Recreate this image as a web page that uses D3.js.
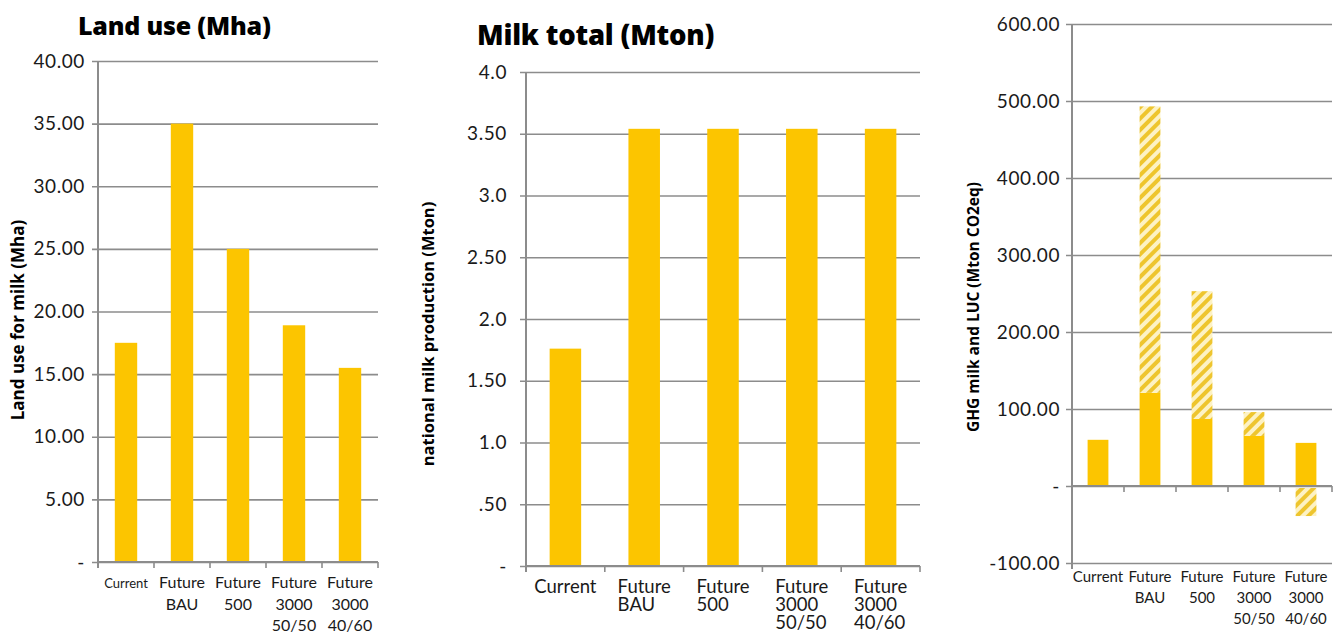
<!DOCTYPE html>
<html>
<head>
<meta charset="utf-8">
<script src="https://cdn.jsdelivr.net/npm/d3@7"></script>
<style>
  body { margin: 0; background: #fff; }
  svg { font-family: Lato, "Open Sans", sans-serif; }
</style>
</head>
<body>
<svg width="1340" height="634"></svg>
<script>
const categories = ["Current", "Future BAU", "Future 500", "Future 3000 50/50", "Future 3000 40/60"];
const categoryLines = [["Current"], ["Future", "BAU"], ["Future", "500"], ["Future", "3000", "50/50"], ["Future", "3000", "40/60"]];

const landUse = [17.5, 35.0, 25.0, 18.9, 15.5];
const landTicks = [0, 5, 10, 15, 20, 25, 30, 35, 40];
const landTickLabels = ["-", "5.00", "10.00", "15.00", "20.00", "25.00", "30.00", "35.00", "40.00"];

const milkTotal = [1.76, 3.54, 3.54, 3.54, 3.54];
const milkTicks = [0, 0.5, 1, 1.5, 2, 2.5, 3, 3.5, 4];
const milkTickLabels = ["-", ".50", "1.0", "1.50", "2.0", "2.50", "3.0", "3.50", "4.0"];

const ghgMilk = [60, 121, 87, 65, 56];
const ghgLuc = [0, 372, 166, 31, -39];
const ghgTicks = [-100, 0, 100, 200, 300, 400, 500, 600];
const ghgTickLabels = ["-100.00", "-", "100.00", "200.00", "300.00", "400.00", "500.00", "600.00"];

const svg = d3.select("svg");
const barColor = "#fcc500";
const gridColor = "#8c8c8c";

// hatch for the LUC part
const defs = svg.append("defs");
const hatch = defs
  .append("pattern")
  .attr("id", "hatch")
  .attr("patternUnits", "userSpaceOnUse")
  .attr("width", 8)
  .attr("height", 8)
  .attr("patternTransform", "rotate(45)");
hatch.append("rect").attr("width", 8).attr("height", 8).attr("fill", "#fdf2c4");
hatch.append("rect").attr("width", 4).attr("height", 8).attr("fill", "#eec52e");

function drawChart(opt) {
  const x = d3
    .scaleBand()
    .domain(categories)
    .range([opt.left, opt.right])
    .paddingInner(0.6)
    .paddingOuter(0.3);
  const y = d3.scaleLinear().domain(opt.domain).range([opt.bottom, opt.top]);

  const g = svg.append("g");

  // gridlines + tick labels
  const axis = g
    .append("g")
    .attr("transform", `translate(${opt.left},0)`)
    .call(
      d3
        .axisLeft(y)
        .tickValues(opt.ticks)
        .tickFormat((d, i) => opt.tickLabels[i])
        .tickSizeInner(-(opt.right - opt.left))
        .tickSizeOuter(0)
        .tickPadding(opt.tickPad)
    );
  axis.select(".domain").remove();
  axis.selectAll(".tick line")
    .attr("x1", -6)
    .attr("stroke", gridColor)
    .attr("stroke-width", 1.6);
  axis.selectAll(".tick text")
    .attr("fill", "#1a1a1a")
    .attr("font-size", opt.tickFont)
    .attr("letter-spacing", 0.6)
    .attr("font-family", "Lato, sans-serif");

  // bars
  g.selectAll("rect.bar")
    .data(opt.values)
    .join("rect")
    .attr("class", "bar")
    .attr("x", (d, i) => x(categories[i]))
    .attr("width", x.bandwidth())
    .attr("y", d => y(Math.max(0, d)))
    .attr("height", d => Math.abs(y(0) - y(d)))
    .attr("fill", barColor);

  if (opt.stack) {
    g.selectAll("rect.luc")
      .data(opt.stack)
      .join("rect")
      .attr("class", "luc")
      .attr("x", (d, i) => x(categories[i]))
      .attr("width", x.bandwidth())
      .attr("y", (d, i) => (d >= 0 ? y(opt.values[i] + d) : y(0) + 2))
      .attr("height", (d, i) => (d >= 0 ? y(opt.values[i]) - y(opt.values[i] + d) : y(d) - y(0) - 2))
      .attr("fill", "url(#hatch)");
  }

  // vertical axis line
  g.append("line")
    .attr("x1", opt.left).attr("x2", opt.left)
    .attr("y1", y(opt.domain[1])).attr("y2", y(opt.domain[0]) + 6)
    .attr("stroke", gridColor).attr("stroke-width", 2);

  // zero line + category ticks
  g.append("line")
    .attr("x1", opt.left).attr("x2", opt.right)
    .attr("y1", y(0)).attr("y2", y(0))
    .attr("stroke", gridColor).attr("stroke-width", 2);
  const bounds = categories.map(c => x(c) - x.step() * 0.3).concat([opt.right]);
  g.selectAll("line.xt")
    .data(bounds)
    .join("line")
    .attr("class", "xt")
    .attr("x1", d => d).attr("x2", d => d)
    .attr("y1", y(0)).attr("y2", y(0) + 6)
    .attr("stroke", gridColor).attr("stroke-width", 1.6);

  // category labels
  const labels = g.selectAll("text.xl")
    .data(categoryLines)
    .join("text")
    .attr("class", "xl")
    .attr("font-size", (d, i) => (i === 0 && opt.firstFont ? opt.firstFont : opt.labelFont))
    .attr("fill", "#1a1a1a")
    .attr("text-anchor", opt.leftAlign ? "start" : "middle");
  labels.each(function (lines, i) {
    const t = d3.select(this);
    lines.forEach((s, k) => {
      t.append("tspan")
        .attr("x", x(categories[i]) + x.bandwidth() / 2)
        .attr("y", opt.labelY + k * opt.lineH)
        .text(s);
    });
    if (opt.leftAlign) {
      const w = d3.max(t.selectAll("tspan").nodes(), n => n.getComputedTextLength());
      t.selectAll("tspan").attr("x", x(categories[i]) + x.bandwidth() / 2 - w / 2);
    }
  });

  // y title
  g.append("text")
    .attr("transform", `translate(${opt.yTitleX},${opt.yTitleY}) rotate(-90)`)
    .attr("text-anchor", "middle")
    .attr("dominant-baseline", "middle")
    .attr("font-family", "'Open Sans', sans-serif")
    .attr("font-weight", 700)
    .attr("font-size", opt.yTitleFont)
    .attr("fill", "#000")
    .text(opt.yTitle);

  if (opt.title) {
    g.append("text")
      .attr("x", opt.titleX)
      .attr("y", opt.titleY)
      .attr("font-family", "'Open Sans', sans-serif")
      .attr("font-weight", 800)
      .attr("font-size", opt.titleFont)
      .attr("letter-spacing", -0.2)
      .attr("fill", "#000")
      .text(opt.title);
  }
}

drawChart({
  left: 98, right: 378, top: 61, bottom: 562,
  domain: [0, 40], ticks: landTicks, tickLabels: landTickLabels, tickPad: 13, tickFont: 19,
  values: landUse,
  labelFont: 16, firstFont: 13, labelY: 588, lineH: 21.5,
  yTitle: "Land use for milk (Mha)", yTitleX: 19, yTitleY: 320, yTitleFont: 17,
  title: "Land use (Mha)", titleX: 78, titleY: 35, titleFont: 25
});

drawChart({
  left: 526, right: 920, top: 72, bottom: 566,
  domain: [0, 4], ticks: milkTicks, tickLabels: milkTickLabels, tickPad: 19, tickFont: 19,
  values: milkTotal,
  labelFont: 18.5, labelY: 593, lineH: 18, leftAlign: true,
  yTitle: "national milk production (Mton)", yTitleX: 430, yTitleY: 334, yTitleFont: 16.5,
  title: "Milk total (Mton)", titleX: 477, titleY: 45, titleFont: 27.5
});

drawChart({
  left: 1072, right: 1332, top: 24, bottom: 563,
  domain: [-100, 600], ticks: ghgTicks, tickLabels: ghgTickLabels, tickPad: 12, tickFont: 19,
  values: ghgMilk, stack: ghgLuc,
  labelFont: 15, labelY: 582, lineH: 21,
  yTitle: "GHG milk and LUC (Mton CO2eq)", yTitleX: 975, yTitleY: 307, yTitleFont: 15.5
});
</script>
</body>
</html>
